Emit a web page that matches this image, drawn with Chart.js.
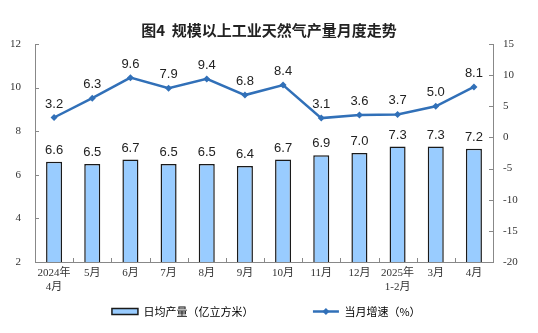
<!DOCTYPE html>
<html lang="zh">
<head>
<meta charset="UTF-8">
<title>规模以上工业天然气产量月度走势</title>
<style>
  html, body { margin: 0; padding: 0; background: #fff; }
  .chartBox { width: 538px; height: 333px; }
</style>
</head>
<body>
<div class="chartBox">
  <canvas id="myChart" width="538" height="333"></canvas>
</div>

<script src="https://cdn.jsdelivr.net/npm/chart.js"></script>
<script>
  // 月份标签
  const months = [
    ['2024年', '4月'], '5月', '6月', '7月', '8月', '9月',
    '10月', '11月', '12月', ['2025年', '1-2月'], '3月', '4月'
  ];
  // 日均产量（亿立方米）
  const dailyOutput = [6.6, 6.5, 6.7, 6.5, 6.5, 6.4, 6.7, 6.9, 7.0, 7.3, 7.3, 7.2];
  // 当月增速（%）
  const monthlyGrowth = [3.2, 6.3, 9.6, 7.9, 9.4, 6.8, 8.4, 3.1, 3.6, 3.7, 5.0, 8.1];

  const barLabel = '日均产量（亿立方米）';
  const lineLabel = '当月增速（%）';

  const lineColor = '#3170b8';
  const serifFont = "'Liberation Serif', 'Noto Sans CJK SC', serif";
  const sansFont = "'Liberation Sans', Arial, sans-serif";
  const cjkFont = "'Noto Sans CJK SC', sans-serif";

  // 数值标签
  const valueLabels = {
    id: 'valueLabels',
    afterDatasetsDraw(chart) {
      const ctx = chart.ctx;
      ctx.save();
      ctx.font = '13px ' + sansFont;
      ctx.fillStyle = '#222';
      ctx.textAlign = 'center';
      ctx.textBaseline = 'bottom';
      chart.data.datasets.forEach((ds, di) => {
        const meta = chart.getDatasetMeta(di);
        const gap = ds.type === 'line' ? 7 : 5;
        meta.data.forEach((el, i) => {
          ctx.fillText(ds.data[i].toFixed(1), el.x, el.y - gap);
        });
      });
      ctx.restore();
    }
  };

  // 坐标轴内刻度线
  const innerTicks = {
    id: 'innerTicks',
    afterDraw(chart) {
      const ctx = chart.ctx;
      const area = chart.chartArea;
      const len = 4;
      ctx.save();
      ctx.strokeStyle = '#888';
      ctx.lineWidth = 1;
      ctx.beginPath();
      const yl = chart.scales.y;
      yl.ticks.forEach((t, i) => {
        const y = Math.round(yl.getPixelForTick(i)) + 0.5;
        ctx.moveTo(area.left, y);
        ctx.lineTo(area.left + len, y);
      });
      const yr = chart.scales.y1;
      yr.ticks.forEach((t, i) => {
        const y = Math.round(yr.getPixelForTick(i)) + 0.5;
        ctx.moveTo(area.right, y);
        ctx.lineTo(area.right - len, y);
      });
      const xs = chart.scales.x;
      for (let i = 1; i < months.length; i++) {
        const x = Math.round((xs.getPixelForTick(i) + xs.getPixelForTick(i - 1)) / 2) + 0.5;
        ctx.moveTo(x, area.bottom);
        ctx.lineTo(x, area.bottom - len);
      }
      ctx.stroke();
      ctx.restore();
    }
  };

  // 图例中折线样式：线段加菱形标记
  const legendMarker = {
    id: 'legendMarker',
    afterDraw(chart) {
      const lg = chart.legend;
      if (!lg || !lg.legendHitBoxes) return;
      const box = lg.legendHitBoxes[1];
      const w = lg.options.labels.boxWidth;
      const cx = box.left + w / 2;
      const cy = box.top + box.height / 2;
      const r = 3.5;
      const ctx = chart.ctx;
      ctx.save();
      ctx.strokeStyle = lineColor;
      ctx.lineWidth = 2.5;
      ctx.beginPath();
      ctx.moveTo(box.left, cy);
      ctx.lineTo(box.left + w, cy);
      ctx.stroke();
      ctx.fillStyle = lineColor;
      ctx.beginPath();
      ctx.moveTo(cx, cy - r);
      ctx.lineTo(cx + r, cy);
      ctx.lineTo(cx, cy + r);
      ctx.lineTo(cx - r, cy);
      ctx.closePath();
      ctx.fill();
      ctx.restore();
    }
  };

  const data = {
    labels: months,
    datasets: [
      {
        type: 'line',
        label: lineLabel,
        data: monthlyGrowth,
        yAxisID: 'y1',
        borderColor: lineColor,
        backgroundColor: lineColor,
        borderWidth: 2.5,
        pointStyle: 'rectRot',
        pointRadius: 3.5,
        pointBackgroundColor: lineColor,
        pointBorderWidth: 0,
        tension: 0,
        order: 0
      },
      {
        type: 'bar',
        label: barLabel,
        data: dailyOutput,
        yAxisID: 'y',
        backgroundColor: '#99ccff',
        borderColor: '#1a1a1a',
        borderWidth: 1.5,
        categoryPercentage: 1,
        barPercentage: 0.42,
        order: 1
      }
    ]
  };

  const config = {
    type: 'bar',
    data,
    options: {
      responsive: false,
      animation: false,
      layout: { padding: { top: 15, bottom: 6, left: 0, right: 0 } },
      plugins: {
        title: {
          display: true,
          text: '图4  规模以上工业天然气产量月度走势',
          color: '#222',
          font: { family: cjkFont, size: 15, weight: 'bold' },
          padding: { top: 6, bottom: 5 }
        },
        legend: {
          position: 'bottom',
          reverse: true,
          labels: {
            color: '#333',
            font: { family: cjkFont, size: 11 },
            boxWidth: 26,
            boxHeight: 6,
            padding: 10,
            generateLabels(chart) {
              return [
                {
                  text: lineLabel + '\u3000',
                  fillStyle: 'rgba(0,0,0,0)',
                  strokeStyle: 'rgba(0,0,0,0)',
                  lineWidth: 0,
                  datasetIndex: 0
                },
                {
                  text: barLabel + '\u3000\u3000\u3000\u3000\u3000',
                  fillStyle: '#99ccff',
                  strokeStyle: '#1a1a1a',
                  lineWidth: 1.5,
                  datasetIndex: 1
                }
              ];
            }
          }
        },
        tooltip: { enabled: false }
      },
      scales: {
        x: {
          offset: true,
          grid: { display: false, drawTicks: false },
          border: { display: true, color: '#888' },
          ticks: {
            color: '#333',
            font: { family: serifFont, size: 11 },
            padding: 5,
            maxRotation: 0,
            autoSkip: false
          },
          afterFit(scale) { scale.height = 34; }
        },
        y: {
          position: 'left',
          min: 2,
          max: 12,
          grid: { display: false, drawTicks: false },
          border: { display: true, color: '#888' },
          ticks: {
            stepSize: 2,
            color: '#333',
            font: { family: serifFont, size: 11 },
            padding: 14
          },
          afterFit(scale) { scale.width = 35; }
        },
        y1: {
          position: 'right',
          min: -20,
          max: 15,
          grid: { display: false, drawTicks: false },
          border: { display: true, color: '#888' },
          ticks: {
            stepSize: 5,
            color: '#333',
            font: { family: serifFont, size: 11 },
            padding: 10
          },
          afterFit(scale) { scale.width = 45; }
        }
      }
    },
    plugins: [valueLabels, innerTicks, legendMarker]
  };

  const myChart = new Chart(document.getElementById('myChart'), config);
</script>
</body>
</html>
